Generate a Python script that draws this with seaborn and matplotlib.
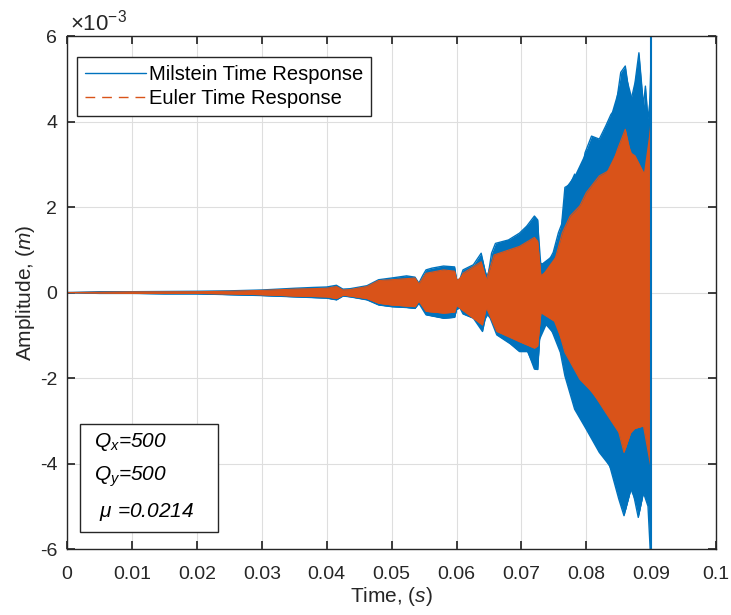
import matplotlib
matplotlib.use("Agg")
import matplotlib.pyplot as plt
from matplotlib.lines import Line2D
from matplotlib.patches import Rectangle
import seaborn as sns
import numpy as np

# envelope of the responses, amplitude in units of 1e-3 m
t_mil_up = [0, 0.005, 0.01, 0.015, 0.02, 0.025, 0.03, 0.035, 0.038, 0.04, 0.0415, 0.0425, 0.0436,
            0.0462, 0.048, 0.05, 0.0523, 0.0536, 0.0542, 0.0548, 0.0553, 0.0562, 0.058, 0.0597, 0.06,
            0.0605, 0.061, 0.0626, 0.0638, 0.0644, 0.0648, 0.0654, 0.066, 0.068, 0.0697, 0.0708, 0.072,
            0.0725, 0.0728, 0.0738, 0.0749, 0.0757, 0.0762, 0.0767, 0.0775, 0.0782, 0.079, 0.0798,
            0.0808, 0.082, 0.083, 0.0838, 0.0845, 0.0853, 0.086, 0.0868, 0.0875, 0.0881, 0.0888,
            0.0891, 0.0895, 0.0899, 0.09]
mil_up = [0, 0.02, 0.02, 0.025, 0.03, 0.04, 0.06, 0.1, 0.12, 0.13, 0.17, 0.08, 0.09,
          0.16, 0.3, 0.34, 0.39, 0.36, 0.22, 0.4, 0.53, 0.57, 0.62, 0.6, 0.31,
          0.3, 0.53, 0.65, 0.92, 0.5, 0.33, 0.92, 1.15, 1.23, 1.39, 1.55, 1.79,
          1.7, 0.7, 0.62, 0.94, 1.4, 1.6, 2.46, 2.53, 2.77, 2.5, 3.27,
          3.66, 3.59, 3.9, 4.17, 4.29, 5.15, 5.3, 4.44, 4.91, 5.61, 4.37,
          4.83, 4.05, 4.6, 6.5]

t_mil_lo = [0, 0.005, 0.01, 0.015, 0.02, 0.025, 0.03, 0.035, 0.04, 0.0415, 0.0425, 0.0436, 0.0462,
            0.048, 0.05, 0.0523, 0.0536, 0.0542, 0.0553, 0.058, 0.0597, 0.06, 0.0605, 0.061, 0.0626,
            0.064, 0.0646, 0.0652, 0.0662, 0.0683, 0.0697, 0.071, 0.072, 0.0725, 0.073, 0.0747, 0.076,
            0.0767, 0.0782, 0.08, 0.082, 0.0836, 0.085, 0.0858, 0.087, 0.088, 0.0888, 0.0895, 0.09]
mil_lo = [0, -0.02, -0.02, -0.03, -0.03, -0.05, -0.07, -0.1, -0.13, -0.17, -0.08, -0.1, -0.17,
          -0.29, -0.33, -0.35, -0.37, -0.25, -0.52, -0.6, -0.58, -0.4, -0.35, -0.5, -0.6,
          -0.91, -0.48, -0.6, -0.99, -1.2, -1.38, -1.38, -1.79, -1.8, -0.62, -0.9, -1.4,
          -1.95, -2.73, -3.2, -3.74, -4.05, -4.83, -5.22, -4.52, -5.26, -4.68, -5.0, -6.5]

t_eul_up = [0, 0.01, 0.02, 0.025, 0.03, 0.035, 0.04, 0.0415, 0.0425, 0.0436, 0.0462, 0.048, 0.05,
            0.0536, 0.0542, 0.0553, 0.058, 0.0597, 0.06, 0.0605, 0.061, 0.0638, 0.0646, 0.0658,
            0.0697, 0.072, 0.0725, 0.073, 0.0749, 0.0763, 0.0775, 0.079, 0.08, 0.082, 0.0838,
            0.0848, 0.086, 0.0868, 0.0875, 0.0888, 0.0893, 0.09]
eul_up = [0, 0.015, 0.02, 0.03, 0.05, 0.08, 0.1, 0.14, 0.06, 0.07, 0.14, 0.28, 0.3,
          0.34, 0.2, 0.45, 0.53, 0.5, 0.3, 0.28, 0.45, 0.72, 0.3, 0.88,
          1.08, 1.29, 1.2, 0.39, 0.62, 1.4, 1.79, 2.03, 2.34, 2.73, 2.88,
          3.35, 3.82, 3.27, 3.2, 2.81, 2.65, 4.13]

t_eul_lo = [0, 0.01, 0.02, 0.025, 0.03, 0.035, 0.04, 0.0415, 0.0425, 0.0436, 0.0462, 0.048, 0.05,
            0.0536, 0.0542, 0.0553, 0.058, 0.0597, 0.06, 0.061, 0.064, 0.0646, 0.0662, 0.0697,
            0.072, 0.0725, 0.073, 0.0754, 0.0767, 0.079, 0.081, 0.083, 0.085, 0.0858, 0.087,
            0.0888, 0.09]
eul_lo = [0, -0.015, -0.02, -0.03, -0.05, -0.08, -0.1, -0.14, -0.06, -0.08, -0.14, -0.25, -0.29,
          -0.33, -0.2, -0.44, -0.48, -0.46, -0.3, -0.42, -0.76, -0.35, -0.91, -1.15,
          -1.3, -1.25, -0.47, -0.7, -1.4, -2.03, -2.34, -2.81, -3.27, -3.74, -3.2,
          -3.12, -4.13]

x_ticks = [0, 0.01, 0.02, 0.03, 0.04, 0.05, 0.06, 0.07, 0.08, 0.09, 0.1]
x_ticklabels = ['0', '0.01', '0.02', '0.03', '0.04', '0.05', '0.06', '0.07', '0.08', '0.09', '0.1']
y_ticks = [-6, -4, -2, 0, 2, 4, 6]
params = [r'$Q_x$=500', r'$Q_y$=500', r' $\mu$ =0.0214']

blue = '#0072BD'
orange = '#D95319'
dark = '#262626'

sns.set_theme(style='whitegrid', rc={
    'axes.edgecolor': dark, 'axes.linewidth': 1.0, 'grid.color': '#dedede', 'grid.linewidth': 0.8,
    'xtick.direction': 'in', 'ytick.direction': 'in', 'xtick.top': True, 'ytick.right': True,
    'xtick.bottom': True, 'ytick.left': True,
    'xtick.major.size': 6, 'ytick.major.size': 6, 'xtick.color': dark, 'ytick.color': dark,
    'text.color': 'black'})
plt.rcParams['font.family'] = ['Liberation Sans', 'DejaVu Sans']
plt.rcParams['mathtext.fontset'] = 'custom'
plt.rcParams['mathtext.rm'] = 'Liberation Sans'
plt.rcParams['mathtext.it'] = 'Liberation Sans:italic'

fig = plt.figure(figsize=(7.31, 6.15), dpi=100)
ax = fig.add_axes([0.0917, 0.1073, 0.888, 0.834])

# Milstein (blue) envelope
ax.fill_between(t_mil_up, np.interp(t_mil_up, t_mil_lo, mil_lo), mil_up, color=blue, lw=0, zorder=2)
ax.fill_between(t_mil_lo, mil_lo, np.interp(t_mil_lo, t_mil_up, mil_up), color=blue, lw=0, zorder=2)
sns.lineplot(x=t_mil_up, y=mil_up, ax=ax, color=blue, lw=1.0, zorder=2)
sns.lineplot(x=t_mil_lo, y=mil_lo, ax=ax, color=blue, lw=1.0, zorder=2)
# Euler (orange) envelope
ax.fill_between(t_eul_up, np.interp(t_eul_up, t_eul_lo, eul_lo), eul_up, color=orange, lw=0, zorder=3)
ax.fill_between(t_eul_lo, eul_lo, np.interp(t_eul_lo, t_eul_up, eul_up), color=orange, lw=0, zorder=3)
sns.lineplot(x=t_eul_up, y=eul_up, ax=ax, color=orange, lw=0.8, zorder=3)
sns.lineplot(x=t_eul_lo, y=eul_lo, ax=ax, color=orange, lw=0.8, zorder=3)
ax.plot([0.09, 0.09], [-6.5, 6.5], color=blue, lw=1.5, zorder=4)

ax.set_xlim(0, 0.1)
ax.set_ylim(-6, 6)
ax.set_xticks(x_ticks)
ax.set_xticklabels(x_ticklabels)
ax.set_yticks(y_ticks)
ax.set_yticklabels([str(v) for v in y_ticks])
ax.tick_params(labelsize=14)
ax.tick_params(axis='x', pad=12)
ax.tick_params(axis='y', pad=7)
ax.grid(True)
for s in ax.spines.values():
    s.set_color(dark)
    s.set_zorder(5)

ax.set_xlabel(r'Time, $\mathit{(s)}$', fontsize=15, color=dark, labelpad=2)
ax.set_ylabel(r'Amplitude, $\mathit{(m)}$', fontsize=15, color=dark, labelpad=2)
ax.text(0.005, 1.002, r'$\times10^{-3}$', transform=ax.transAxes, fontsize=16, color=dark,
        ha='left', va='bottom')

handles = [Line2D([], [], color=blue, lw=1.0),
           Line2D([], [], color=orange, lw=1.0, ls=(0, (7, 5)))]
leg = ax.legend(handles, ['Milstein Time Response', 'Euler Time Response'], loc='upper left',
                bbox_to_anchor=(0.0155, 0.96), fontsize=14.5, frameon=True, fancybox=False,
                handlelength=3.0, handletextpad=0.15, borderpad=0.4, labelspacing=0.25,
                borderaxespad=0)
leg.get_frame().set_edgecolor(dark)
leg.get_frame().set_linewidth(1.0)
leg.get_frame().set_alpha(1)

# parameter box
ax.add_patch(Rectangle((0.02, 0.033), 0.212, 0.211, transform=ax.transAxes, facecolor='white',
                       edgecolor=dark, lw=1.0, zorder=6))
for i, s in enumerate(params):
    ax.text(0.042, 0.208 - i * 0.068, s, transform=ax.transAxes, fontsize=15, fontstyle='italic',
            va='center', ha='left', zorder=7)

fig.savefig('out.png', dpi=100)
